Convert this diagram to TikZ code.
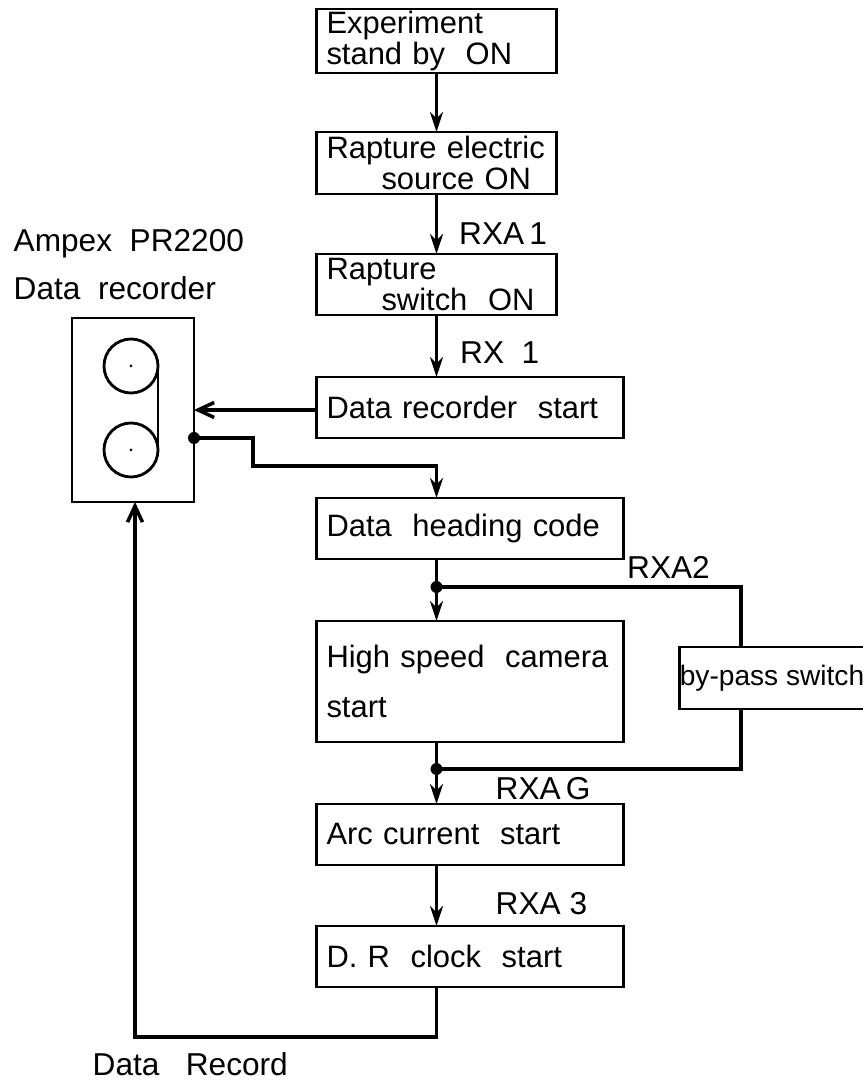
\documentclass[tikz,border=0pt]{standalone}
\usepackage{fontspec}
\setmainfont{Liberation Sans}
\usetikzlibrary{arrows.meta,positioning,calc}

\begin{document}
\begin{tikzpicture}[
  node distance=0.6cm,
  stepbox/.style={draw,line width=0.75pt,inner sep=0pt,outer sep=0pt,inner xsep=0.1cm,align=left,
    font=\fontsize{8.8}{8.6}\selectfont,text width=#1,minimum height=0.61cm},
  stepbox/.default=2.2cm,
  widebox/.style={stepbox=2.87cm},
  lbl/.style={inner sep=0pt,font=\fontsize{9}{9}\selectfont},
  dot/.style={circle,fill=black,inner sep=0pt,minimum size=0.12cm},
  hub/.style={circle,fill=black,inner sep=0pt,minimum size=0.03cm},
  reel/.style={circle,draw,line width=0.8pt,inner sep=0pt,outer sep=0pt,minimum size=0.54cm},
  arr/.style={-{Stealth[length=0.2cm,width=0.13cm]},line width=1pt},
  openarr/.style={-{Straight Barb[length=0.16cm,width=0.15cm]},line width=1pt},
  wire/.style={line width=1pt}
]
  \useasboundingbox (0,0) rectangle (8.63,10.82);

  % Main chain
  \node[stepbox,minimum height=0.64cm] (expon) at (4.365,10.41) {Experiment\\stand by\ \ ON};
  \node[stepbox,minimum height=0.62cm,below=0.59cm of expon] (rapsrc) {Rapture electric\\\hspace*{0.55cm}source ON};
  \node[stepbox,minimum height=0.61cm,below=0.6cm of rapsrc] (rapsw) {Rapture\\\hspace*{0.55cm}switch\ \ ON};
  \node[widebox,below=0.62cm of rapsw.south west,anchor=north west] (drstart) {Data recorder\ \ start};
  \node[widebox,below=0.6cm of drstart] (heading) {Data\ \ heading code};
  \node[widebox,minimum height=1.21cm,below=0.62cm of heading] (camera) {High speed\ \ camera\\[0.19cm]start};
  \node[widebox,below=0.62cm of camera] (arcst) {Arc current\ \ start};
  \node[widebox,below=0.61cm of arcst] (clock) {D. R\ \ clock\ \ start};

  % Recorder
  \node[draw,line width=0.75pt,outer sep=0pt,minimum width=1.22cm,minimum height=1.84cm,inner sep=0pt] (rec) at (1.33,6.72) {};
  \node[reel] (reeltop) at (1.31,7.16) {};
  \node[reel] (reelbot) at (1.31,6.32) {};
  \node[hub] (hubtop) at (reeltop) {};
  \node[hub] (hubbot) at (reelbot) {};
  \draw[line width=0.8pt] (reeltop.east) -- (reelbot.east);

  % By-pass
  \node[draw,line width=0.75pt,outer sep=0pt,inner sep=0pt,minimum width=1.8cm,minimum height=0.62cm,
    font=\fontsize{8}{8}\selectfont] (bypass) at (7.72,4.04) {by-pass switch};
  \node[dot] (jtop) at (rapsw.south |- 0,4.95) {};
  \node[dot] (jbot) at (rapsw.south |- 0,3.13) {};
  \node[dot] (jrec) at (rec.east |- 0,6.44) {};
  \coordinate (bpx) at (7.41,4.95);
  \coordinate (bpy) at (7.41,3.13);
  \coordinate (rowb) at (rapsw.south |- 0,0.45);

  \draw[arr] (expon) -- (rapsrc);
  \draw[arr] (rapsrc) -- (rapsw);
  \draw[arr] (rapsw) -- (rapsw.south |- drstart.north);
  \draw[openarr] (drstart.west |- rec.east) -- (rec.east);
  \draw[arr] (jrec.center) -| (2.53,6.16) -| (rapsw.south |- heading.north);
  \draw[wire] (rapsw.south |- heading.south) -- (jtop.center);
  \draw[arr] (jtop.center) -- (rapsw.south |- camera.north);
  \draw[wire] (jtop.center) -- (bpx) -- (bpx |- bypass.north);
  \draw[wire] (bpx |- bypass.south) -- (bpy) -- (jbot.center);
  \draw[wire] (rapsw.south |- camera.south) -- (jbot.center);
  \draw[arr] (jbot.center) -- (rapsw.south |- arcst.north);
  \draw[arr] (rapsw.south |- arcst.south) -- (rapsw.south |- clock.north);
  \draw[openarr] (rapsw.south |- clock.south) -- (rowb) -| (rec.south -| 1.35,0);

  % Labels
  \node[lbl,above right=0.09cm and 0.22cm of rapsw.north] {RXA\,1};
  \node[lbl,above right=0.13cm and 1.43cm of drstart.north west] {RX\ \ 1};
  \node[lbl,above right=0.08cm and 1.9cm of jtop.center] {RXA2};
  \node[lbl,above right=0.03cm and 0.25cm of arcst.north] {RXA\,G};
  \node[lbl,above right=0.1cm and 0.25cm of clock.north] {RXA 3};
  \node[lbl,anchor=base west] at (0.13,8.30) {Ampex\ \ PR2200};
  \node[lbl,anchor=base west] at (0.13,7.82) {Data\ \ recorder};
  \node[lbl,anchor=base west] at (0.92,0.06) {Data\ \ \ Record};
\end{tikzpicture}
\end{document}
